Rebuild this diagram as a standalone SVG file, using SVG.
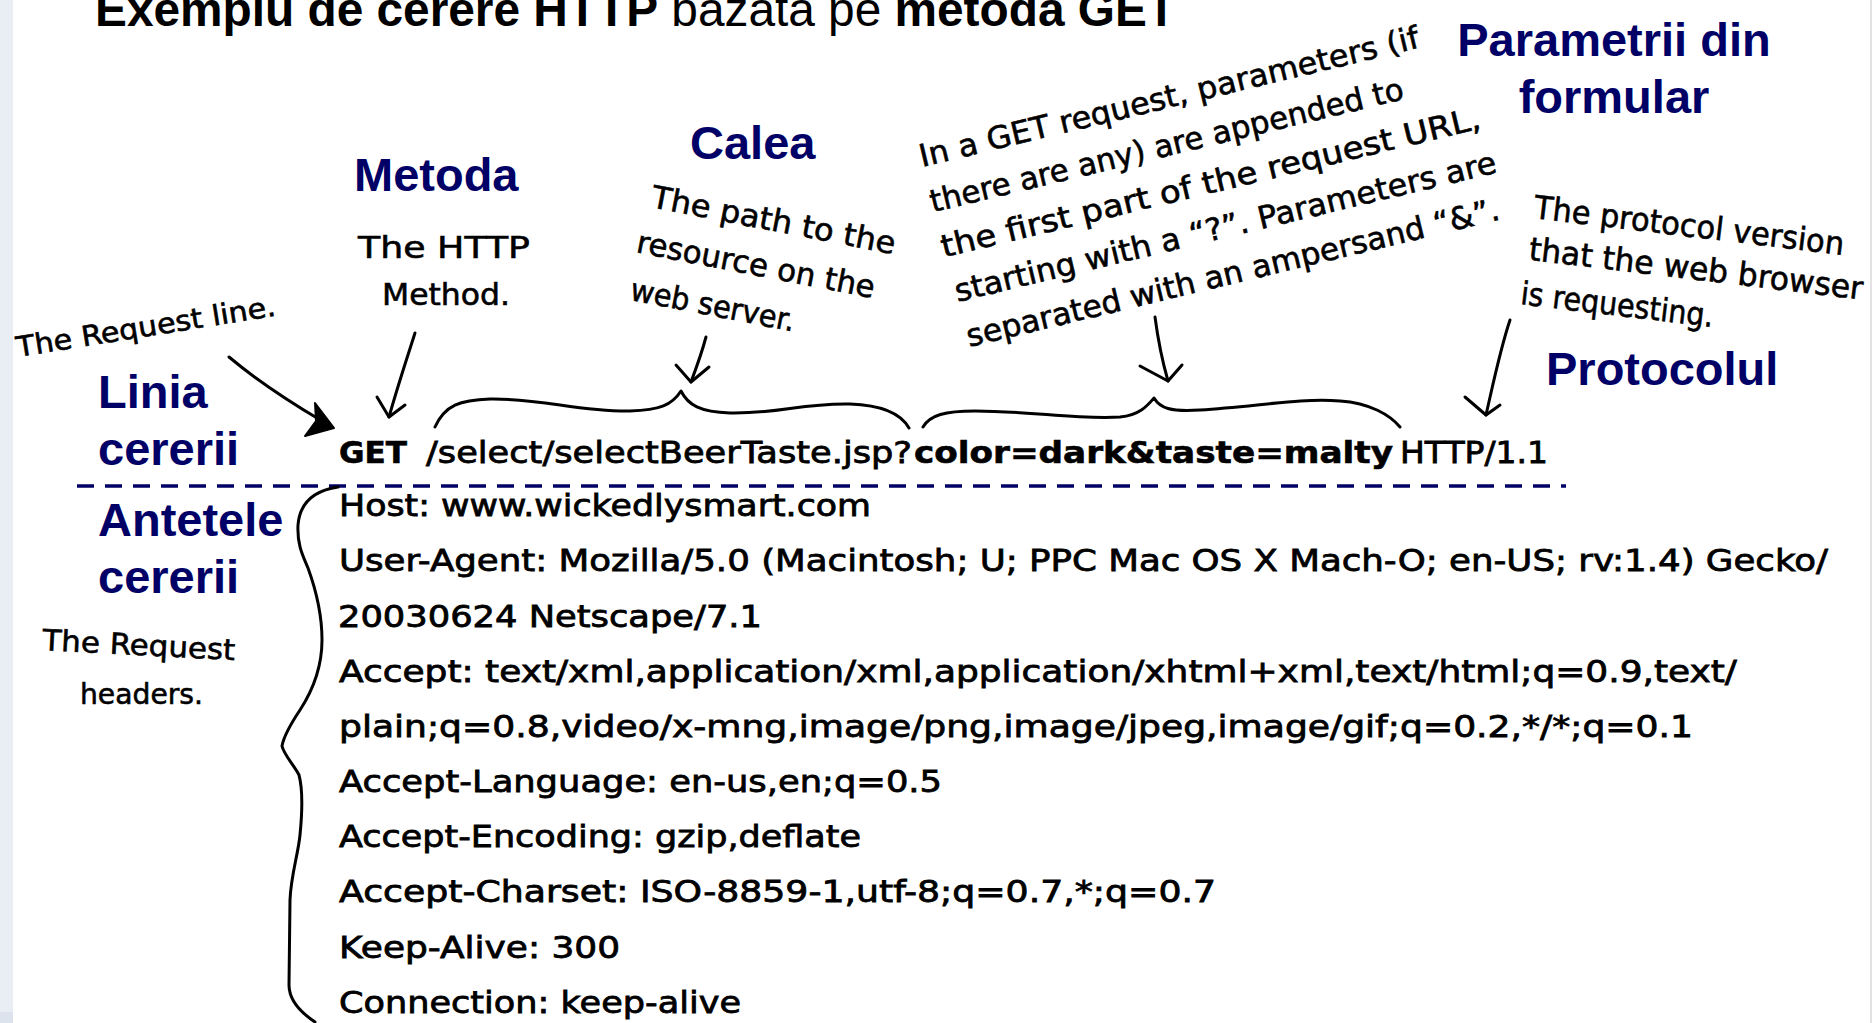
<svg xmlns="http://www.w3.org/2000/svg" width="1872" height="1023" viewBox="0 0 1872 1023">
<defs>
<style>
.h{font-family:"Liberation Sans",Arial,sans-serif;font-weight:bold;font-size:47px;fill:#000066}
.t{font-family:"Liberation Sans",Arial,sans-serif;font-size:48px;fill:#000}
.hw{font-family:"DejaVu Sans",sans-serif;fill:#000;stroke:#000;stroke-width:0.6}
.code{font-family:"DejaVu Sans",sans-serif;font-size:31px;fill:#000;stroke:#000;stroke-width:0.8}
.b{font-weight:bold;stroke-width:0.6}
.ln{fill:none;stroke:#000;stroke-width:3;stroke-linecap:round;stroke-linejoin:round}
.dash{fill:none;stroke:#000066;stroke-width:3.5;stroke-dasharray:17 11}
</style>
</defs>
<rect width="1872" height="1023" fill="#fff"/>
<rect x="0" y="0" width="13" height="1023" fill="#e9edf4"/>
<rect x="0" y="1012" width="13" height="11" fill="#dde3ec"/>
<line x1="1871" y1="0" x2="1871" y2="1023" stroke="#e2e2e2" stroke-width="2"/>

<g id="title">
<text class="t" x="95" y="26" textLength="1081" lengthAdjust="spacingAndGlyphs"><tspan font-weight="bold">Exemplu de cerere HTTP</tspan> bazata pe <tspan font-weight="bold">metoda GET</tspan></text>
</g>

<g id="label-parametrii">
<text class="h" x="1614" y="56" text-anchor="middle">Parametrii din</text>
<text class="h" x="1614" y="113" text-anchor="middle">formular</text>
</g>
<g id="label-calea"><text class="h" x="690" y="159">Calea</text></g>
<g id="label-metoda"><text class="h" x="354" y="191">Metoda</text></g>
<g id="label-linia">
<text class="h" x="98" y="408">Linia</text>
<text class="h" x="98" y="465">cererii</text>
</g>
<g id="label-antetele">
<text class="h" x="98" y="536">Antetele</text>
<text class="h" x="98" y="593">cererii</text>
</g>
<g id="label-protocolul"><text class="h" x="1546" y="385">Protocolul</text></g>

<g id="note-request-line">
<text class="hw" font-size="28" transform="translate(18,357) rotate(-9.1)" textLength="262" lengthAdjust="spacingAndGlyphs">The Request line.</text>
</g>
<g id="note-method">
<text class="hw" font-size="31" x="444" y="258" text-anchor="middle" textLength="172" lengthAdjust="spacingAndGlyphs">The HTTP</text>
<text class="hw" font-size="31" x="446" y="305" text-anchor="middle" textLength="128" lengthAdjust="spacingAndGlyphs">Method.</text>
</g>
<g id="note-path" transform="translate(650,207) rotate(11)">
<text class="hw" font-size="31" x="0" y="0" textLength="248" lengthAdjust="spacingAndGlyphs">The path to the</text>
<text class="hw" font-size="31" x="-6" y="47" textLength="242" lengthAdjust="spacingAndGlyphs">resource on the</text>
<text class="hw" font-size="31" x="-3" y="95" textLength="167" lengthAdjust="spacingAndGlyphs">web server.</text>
</g>
<g id="note-params" transform="translate(922,167) rotate(-13.5)">
<text class="hw" font-size="31" x="0" y="0" textLength="513" lengthAdjust="spacingAndGlyphs">In a GET request, parameters (if</text>
<text class="hw" font-size="31" x="0" y="46.5" textLength="486" lengthAdjust="spacingAndGlyphs">there are any) are appended to</text>
<text class="hw" font-size="31" x="0" y="93" textLength="554" lengthAdjust="spacingAndGlyphs">the first part of the request URL,</text>
<text class="hw" font-size="31" x="3" y="139.5" textLength="556" lengthAdjust="spacingAndGlyphs">starting with a “?”. Parameters are</text>
<text class="hw" font-size="31" x="4" y="186" textLength="547" lengthAdjust="spacingAndGlyphs">separated with an ampersand “&amp;”.</text>
</g>
<g id="note-protocol" transform="translate(1533,218) rotate(6.8)">
<text class="hw" font-size="32" x="0" y="0" textLength="312" lengthAdjust="spacingAndGlyphs">The protocol version</text>
<text class="hw" font-size="32" x="0" y="42" textLength="336" lengthAdjust="spacingAndGlyphs">that the web browser</text>
<text class="hw" font-size="32" x="-3" y="87" textLength="194" lengthAdjust="spacingAndGlyphs">is requesting.</text>
</g>
<g id="note-headers">
<text class="hw" font-size="29" transform="translate(42,650) rotate(3)" textLength="193" lengthAdjust="spacingAndGlyphs">The Request</text>
<text class="hw" font-size="29" x="80" y="704" textLength="123" lengthAdjust="spacingAndGlyphs">headers.</text>
</g>

<g id="request-line">
<text class="code b" x="339" y="463" textLength="68" lengthAdjust="spacingAndGlyphs">GET</text>
<text class="code" x="426" y="463" textLength="486" lengthAdjust="spacingAndGlyphs">/select/selectBeerTaste.jsp?</text>
<text class="code b" x="914" y="463" textLength="479" lengthAdjust="spacingAndGlyphs">color=dark&amp;taste=malty</text>
<text class="code" x="1400" y="463" textLength="148" lengthAdjust="spacingAndGlyphs">HTTP/1.1</text>
</g>

<g id="request-headers">
<text class="code" x="339" y="516" textLength="532" lengthAdjust="spacingAndGlyphs">Host: www.wickedlysmart.com</text>
<text class="code" x="339" y="571" textLength="1489" lengthAdjust="spacingAndGlyphs">User-Agent: Mozilla/5.0 (Macintosh; U; PPC Mac OS X Mach-O; en-US; rv:1.4) Gecko/</text>
<text class="code" x="338" y="627" textLength="424" lengthAdjust="spacingAndGlyphs">20030624 Netscape/7.1</text>
<text class="code" x="339" y="682" textLength="1398" lengthAdjust="spacingAndGlyphs">Accept: text/xml,application/xml,application/xhtml+xml,text/html;q=0.9,text/</text>
<text class="code" x="339" y="737" textLength="1354" lengthAdjust="spacingAndGlyphs">plain;q=0.8,video/x-mng,image/png,image/jpeg,image/gif;q=0.2,*/*;q=0.1</text>
<text class="code" x="339" y="792" textLength="603" lengthAdjust="spacingAndGlyphs">Accept-Language: en-us,en;q=0.5</text>
<text class="code" x="339" y="847" textLength="522" lengthAdjust="spacingAndGlyphs">Accept-Encoding: gzip,deflate</text>
<text class="code" x="339" y="902" textLength="877" lengthAdjust="spacingAndGlyphs">Accept-Charset: ISO-8859-1,utf-8;q=0.7,*;q=0.7</text>
<text class="code" x="339" y="958" textLength="281" lengthAdjust="spacingAndGlyphs">Keep-Alive: 300</text>
<text class="code" x="339" y="1013" textLength="402" lengthAdjust="spacingAndGlyphs">Connection: keep-alive</text>
</g>

<g id="connectors">
<line class="dash" x1="77" y1="486" x2="1566" y2="486"/>
<path class="ln" d="M229,357 C260,383 295,405 322,421"/>
<path d="M334,428 L305,436 L316,421 L315,403 Z" fill="#000" stroke="#000" stroke-width="2" stroke-linejoin="round"/>
<path class="ln" d="M415,333 C408,355 398,385 389,417"/>
<path class="ln" d="M377,397 L389,417 L405,405"/>
<path class="ln" d="M706,337 C702,352 697,366 691,382"/>
<path class="ln" d="M676,365 L691,382 L709,367"/>
<path class="ln" d="M1155,317 C1158,340 1162,360 1168,381"/>
<path class="ln" d="M1140,366 L1168,381 L1182,365"/>
<path class="ln" d="M1510,320 C1500,350 1494,380 1486,415"/>
<path class="ln" d="M1465,397 L1486,415 L1500,405"/>
<path class="ln" d="M435,427 C445,405 460,400 490,399 C540,398 580,412 630,411 C660,410 672,405 681,391 C688,405 700,412 730,413 C780,414 800,403 850,404 C880,405 900,412 909,428"/>
<path class="ln" d="M923,427 C930,415 945,411 975,411 C1030,411 1080,420 1120,417 C1140,415 1148,405 1154,398 C1160,408 1170,412 1200,410 C1260,406 1300,398 1340,401 C1370,403 1390,415 1400,427"/>
<path class="ln" d="M338,487 C318,490 300,500 298,525 C297,545 303,556 308,568 C316,590 322,615 322,640 C322,665 313,690 300,710 C292,722 284,735 282,746 C284,755 294,765 299,775 C303,790 302,815 300,835 C298,855 291,875 290,900 L289,985 C289,1000 300,1012 315,1022"/>
</g>
</svg>
